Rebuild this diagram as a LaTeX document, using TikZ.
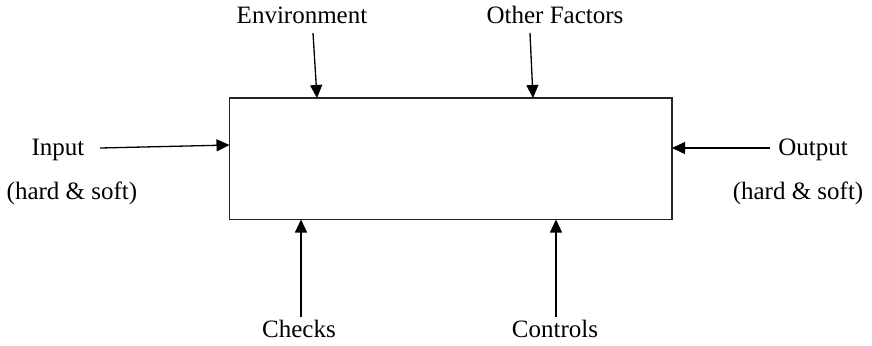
\documentclass[tikz,border=0pt]{standalone}
\usepackage{fontspec}
\setmainfont{Liberation Serif}
\usetikzlibrary{arrows.meta}

\begin{document}
\begin{tikzpicture}
	[x=0.5pt, y=-0.5pt,%
	block/.style ={rectangle,	draw=black!85,	line width=0.75pt,	inner sep=0pt,	minimum width=221.25pt,	minimum height=60.75pt},%
	txt/.style   ={anchor=base,	inner sep=0pt,	font=\fontsize{12.5}{15}\selectfont},%
	feed/.style  ={line width=0.65pt,	-{Triangle[length=6.5pt,width=6pt]}},%
	]
	\useasboundingbox (0,0) rectangle (872,345);

	% nodes
	\node (sys) at (450.75,158.75) [block] {};

	\node (env)   at (302,23)  [txt] {Environment};
	\node (other) at (555,23)  [txt] {Other Factors};
	\node (in)    at (58,155)  [txt] {Input};
	\node (inhs)  at (72,199)  [txt] {(hard \& soft)};
	\node (out)   at (813,155) [txt] {Output};
	\node (ouths) at (798,199) [txt] {(hard \& soft)};
	\node (chk)   at (299,337) [txt] {Checks};
	\node (ctl)   at (555,337) [txt] {Controls};

	% arrow ends
	\coordinate (envT)   at (313,33);	\coordinate (envH)   at (317,98);
	\coordinate (otherT) at (530,33);	\coordinate (otherH) at (533,98);
	\coordinate (inT)    at (100,148);	\coordinate (inH)    at (229.5,145);
	\coordinate (outT)   at (770,148);	\coordinate (outH)   at (672,148);
	\coordinate (chkT)   at (301,317);	\coordinate (chkH)   at (301,219.5);
	\coordinate (ctlT)   at (556,317);	\coordinate (ctlH)   at (556,219.5);

	% interconnections
	\foreach \a in {env,other,in,out,chk,ctl}%
		\draw [feed] (\a T) -- (\a H);

\end{tikzpicture}
\end{document}
